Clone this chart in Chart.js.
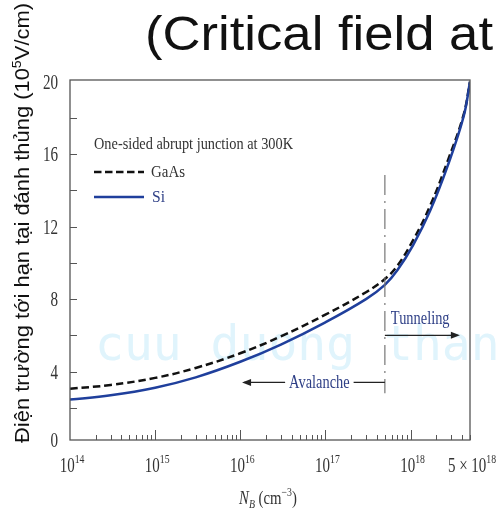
<!DOCTYPE html>
<html><head><meta charset="utf-8">
<script src="https://cdn.jsdelivr.net/npm/chart.js@4"></script>
<style>html,body{margin:0;padding:0;background:#fff;overflow:hidden}</style>
</head><body>
<canvas id="c" width="498" height="511"></canvas>
<script>
// ---- data ----
const dopingN   = [1e14, 3e14, 1e15, 3e15, 1e16, 3e16, 1e17, 3e17, 5e17, 7e17, 1.07e18, 1.7e18, 2.7e18, 4.2e18, 5e18];
const fieldSi   = [2.45, 2.69, 3.11, 3.68, 4.54, 5.49, 6.72, 8.0, 8.79, 9.59, 10.97, 12.88, 15.29, 18.07, 20];
const fieldGaAs = [3.05, 3.26, 3.65, 4.2, 5.01, 5.94, 7.14, 8.38, 9.11, 9.84, 11.24, 13.15, 15.56, 18.17, 20];
const yTickLabels = [0, 4, 8, 12, 16, 20];
const yMinorTicks = [2, 4, 6, 8, 10, 12, 14, 16, 18];
const xDecades = [14, 15, 16, 17, 18];
const xMax = 5e18;
const boundaryN = 5e17;
const boundaryRange = [2.8, 14.85];
const avalancheArrow = {from: 1.05e16, to: 5e17, y: 3.4, labelAt: 8.5e16};
const tunnelingArrow = {from: 5e17, to: 3.8e18, y: 6.0, labelAt: 1.3e18, labelY: 6.95};

const SERIF = '"Liberation Serif", "DejaVu Serif", serif';
const SANS = '"Liberation Sans", Arial, sans-serif';
const NAVY = '#1f3f9c';
const TEXTBLUE = '#2e3f86';

function richWidth(ctx, segs){let w=0;for(const s of segs){ctx.font=s.font;w+=ctx.measureText(s.t).width;}return w;}
function drawRich(ctx, segs, x, y, o){
  const w = richWidth(ctx, segs);
  const sx = o.width ? o.width / w : (o.sx || 1);
  const start = o.align === 'center' ? x - w*sx/2 : o.align === 'right' ? x - w*sx : x;
  ctx.save(); ctx.translate(start, y); ctx.scale(sx, 1);
  ctx.textBaseline = 'alphabetic'; ctx.textAlign = 'left';
  let cx = 0;
  for (const s of segs){ctx.font=s.font;ctx.fillStyle=s.color||o.color||'#222';ctx.fillText(s.t,cx,s.dy||0);cx+=ctx.measureText(s.t).width;}
  ctx.restore();
  return w*sx;
}
function arrowHead(ctx, x, y, dir){
  ctx.beginPath(); ctx.moveTo(x, y); ctx.lineTo(x - dir*9, y - 3.5); ctx.lineTo(x - dir*9, y + 3.5); ctx.closePath(); ctx.fill();
}

const decor = {
  id: 'decor',
  beforeDatasetsDraw(chart){
    const ctx = chart.ctx;
    ctx.save();
    ctx.font = '48px "DejaVu Sans Mono", monospace';
    ctx.fillStyle = '#e0f4fc';
    ctx.textBaseline = 'alphabetic';
    ctx.fillText('cuu duong thanh cong', 95, 360);
    ctx.restore();
  },
  afterDatasetsDraw(chart){
    const ctx = chart.ctx, a = chart.chartArea, xs = chart.scales.x, ys = chart.scales.y;
    ctx.save();
    // frame
    ctx.strokeStyle = '#555'; ctx.lineWidth = 1.3;
    ctx.strokeRect(a.left, a.top, a.right - a.left, a.bottom - a.top);
    // y inner ticks
    ctx.beginPath();
    for (const v of yMinorTicks){ const py = Math.round(ys.getPixelForValue(v)) + 0.5; ctx.moveTo(a.left, py); ctx.lineTo(a.left + 7, py); }
    // x inner ticks
    for (const d of xDecades){ for (let m = 1; m <= 9; m++){ const v = m * Math.pow(10, d); if (v <= 1e14 || v > xMax) continue; const px = Math.round(xs.getPixelForValue(v)) + 0.5; ctx.moveTo(px, a.bottom); ctx.lineTo(px, a.bottom - (m === 1 ? 10 : 5)); } }
    ctx.lineWidth = 1; ctx.stroke();
    // y labels
    for (const v of yTickLabels){ const py = Math.min(ys.getPixelForValue(v), a.bottom); drawRich(ctx, [{t:String(v), font:'21px '+SERIF}], 58, py + 7, {align:'right', sx:0.72, color:'#333'}); }
    // x labels
    for (const d of xDecades){ const px = xs.getPixelForValue(Math.pow(10, d)); drawRich(ctx, [{t:'10', font:'20px '+SERIF},{t:String(d), font:'13px '+SERIF, dy:-9}], px + 2, 472, {align:'center', sx:0.75, color:'#333'}); }
    drawRich(ctx, [{t:'5 \u00d7 10', font:'20px '+SERIF},{t:'18', font:'13px '+SERIF, dy:-9}], xs.getPixelForValue(xMax) + 2, 472, {align:'center', sx:0.75, color:'#333'});
    // boundary dash-dot line
    const bx = xs.getPixelForValue(boundaryN);
    ctx.strokeStyle = '#777'; ctx.lineWidth = 1.2; ctx.setLineDash([20, 6, 2, 6]);
    ctx.beginPath(); ctx.moveTo(bx, ys.getPixelForValue(boundaryRange[1])); ctx.lineTo(bx, ys.getPixelForValue(boundaryRange[0])); ctx.stroke();
    ctx.setLineDash([]);
    // avalanche arrow
    ctx.strokeStyle = '#222'; ctx.fillStyle = '#222'; ctx.lineWidth = 1.3;
    const ay = ys.getPixelForValue(avalancheArrow.y), ax0 = xs.getPixelForValue(avalancheArrow.from), ax1 = xs.getPixelForValue(avalancheArrow.to), alx = xs.getPixelForValue(avalancheArrow.labelAt);
    const aw = richWidth(ctx, [{t:'Avalanche', font:'18px '+SERIF}]) * 0.8;
    ctx.beginPath(); ctx.moveTo(ax0 + 2, ay); ctx.lineTo(alx - aw/2 - 4, ay); ctx.moveTo(alx + aw/2 + 4, ay); ctx.lineTo(ax1, ay); ctx.stroke();
    arrowHead(ctx, ax0, ay, -1);
    drawRich(ctx, [{t:'Avalanche', font:'18px '+SERIF}], alx, ay + 5.5, {align:'center', sx:0.8, color:TEXTBLUE});
    // tunneling arrow
    const ty = ys.getPixelForValue(tunnelingArrow.y), tx0 = xs.getPixelForValue(tunnelingArrow.from), tx1 = xs.getPixelForValue(tunnelingArrow.to);
    ctx.beginPath(); ctx.moveTo(tx0, ty); ctx.lineTo(tx1 - 2, ty); ctx.stroke();
    arrowHead(ctx, tx1, ty, 1);
    drawRich(ctx, [{t:'Tunneling', font:'18px '+SERIF}], xs.getPixelForValue(tunnelingArrow.labelAt), ys.getPixelForValue(tunnelingArrow.labelY) + 5.5, {align:'center', sx:0.8, color:TEXTBLUE});
    // legend
    drawRich(ctx, [{t:'One-sided abrupt junction at 300K', font:'17px '+SERIF}], 94, 149, {width:199, color:'#333'});
    ctx.lineWidth = 2.5;
    ctx.strokeStyle = '#111'; ctx.setLineDash([7.5, 3.5]);
    ctx.beginPath(); ctx.moveTo(94, 172); ctx.lineTo(144, 172); ctx.stroke();
    ctx.setLineDash([]); ctx.strokeStyle = NAVY;
    ctx.beginPath(); ctx.moveTo(94, 197); ctx.lineTo(144, 197); ctx.stroke();
    drawRich(ctx, [{t:'GaAs', font:'17px '+SERIF}], 151, 177, {width:34, color:'#333'});
    drawRich(ctx, [{t:'Si', font:'17px '+SERIF}], 152, 202, {width:13, color:TEXTBLUE});
    // x axis title
    drawRich(ctx, [{t:'N', font:'italic 18px '+SERIF},{t:'B', font:'italic 12px '+SERIF, dy:4},{t:' (cm', font:'18px '+SERIF},{t:'\u22123', font:'12px '+SERIF, dy:-8},{t:')', font:'18px '+SERIF}], 268, 504, {align:'center', sx:0.82, color:'#333'});
    // y axis title (rotated)
    ctx.save(); ctx.translate(22, 443); ctx.rotate(-Math.PI/2);
    drawRich(ctx, [{t:'\u0110i\u1ec7n tr\u01b0\u1eddng t\u1edbi h\u1ea1n t\u1ea1i \u0111\u00e1nh th\u1ee7ng (10', font:'20px '+SANS},{t:'5', font:'13px '+SANS, dy:-8},{t:'V/cm)', font:'20px '+SANS}], 0, 7, {width:440, color:'#111'});
    ctx.restore();
    // page title
    drawRich(ctx, [{t:'(Critical field at', font:'48px '+SANS}], 145, 50, {width:348, color:'#111'});
    ctx.restore();
  }
};

new Chart(document.getElementById('c'), {
  type: 'line',
  data: {
    datasets: [
      {label: 'Si', data: dopingN.map((n, i) => ({x: n, y: fieldSi[i]})), borderColor: NAVY, borderWidth: 2.5, pointRadius: 0, fill: false, tension: 0.4},
      {label: 'GaAs', data: dopingN.map((n, i) => ({x: n, y: fieldGaAs[i]})), borderColor: '#111', borderWidth: 2.5, borderDash: [7.5, 4], pointRadius: 0, fill: false, tension: 0.4}
    ]
  },
  options: {
    responsive: false, animation: false, devicePixelRatio: 1,
    layout: {padding: {left: 0, top: 80, right: 28, bottom: 0}},
    plugins: {legend: {display: false}, tooltip: {enabled: false}, title: {display: false}},
    scales: {
      x: {type: 'logarithmic', min: 1e14, max: xMax, grid: {display: false}, border: {display: false}, ticks: {display: false}, afterFit: s => { s.height = 71; }},
      y: {type: 'linear', min: 0.22, max: 20.1, ticks: {display: false}, grid: {display: false}, border: {display: false}, afterFit: s => { s.width = 70; }}
    }
  },
  plugins: [decor]
});
</script>
</body></html>
